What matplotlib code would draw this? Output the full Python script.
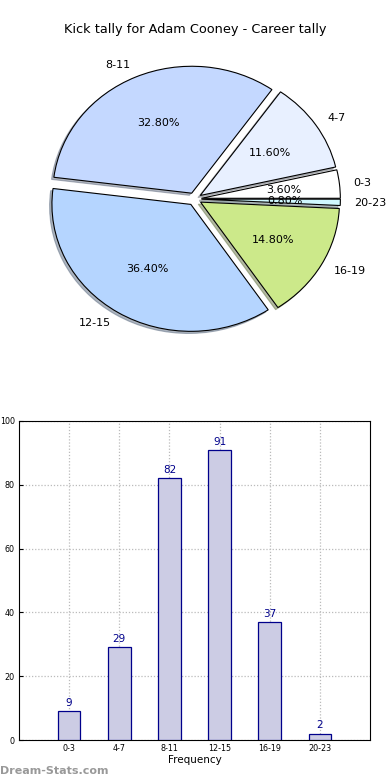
import matplotlib
matplotlib.use("Agg")
import matplotlib.pyplot as plt
import numpy as np

categories = ["0-3", "4-7", "8-11", "12-15", "16-19", "20-23"]
kicks = [9, 29, 82, 91, 37, 2]
pie_colors = ["#ffffff", "#e8f0ff", "#c4d8ff", "#b5d5ff", "#cce98a", "#d0f8ff"]

fig = plt.figure(figsize=(3.9, 7.8), dpi=100)

# pie on top
ax1 = fig.add_axes([0.0, 1 - 364 / 780, 389 / 390, 330 / 780])
wedges, texts, autotexts = ax1.pie(
    kicks, labels=categories, colors=pie_colors, explode=[0.05] * 6,
    autopct="%1.2f%%", shadow={"ox": -0.012, "oy": -0.012, "shade": 0.5},
    startangle=0, counterclock=True,
    wedgeprops={"edgecolor": "black", "linewidth": 0.8},
    textprops={"fontsize": 8})
ax1.set_aspect("auto")
ax1.set_xlim(-1.4, 1.4)
ax1.set_ylim(-1.3, 1.3)
fig.text(0.5, 1 - 30 / 780, "Kick tally for Adam Cooney - Career tally",
         ha="center", va="center", fontsize=9.3)

# bar chart below
ax2 = fig.add_axes([19 / 390, 1 - 740 / 780, 351 / 390, 319 / 780])
x = np.arange(len(categories))
ax2.bar(x, kicks, width=0.45, color="#cccce4", edgecolor="#00008b",
        linewidth=0.9, zorder=3)
for xi, v in zip(x, kicks):
    ax2.text(xi, v + 1, str(v), ha="center", va="bottom", color="#00008b",
             fontsize=7.5, zorder=4)
ax2.set_xlim(-1, 6)
ax2.set_ylim(0, 100)
ax2.set_xticks(x)
ax2.set_xticklabels(categories)
ax2.set_yticks(range(0, 101, 20))
ax2.tick_params(labelsize=5.8, direction="in", length=3, pad=3)
ax2.grid(True, linestyle=(0, (1, 1.5)), color="#bbbbbb", linewidth=0.9, zorder=0)
ax2.set_xlabel("Frequency", fontsize=7.5, labelpad=1)

fig.text(0.0, 1 - 771 / 780, "Dream-Stats.com", ha="left", va="center",
         fontsize=8, color="#999999", fontweight="bold")

fig.savefig("out.png", dpi=100)
